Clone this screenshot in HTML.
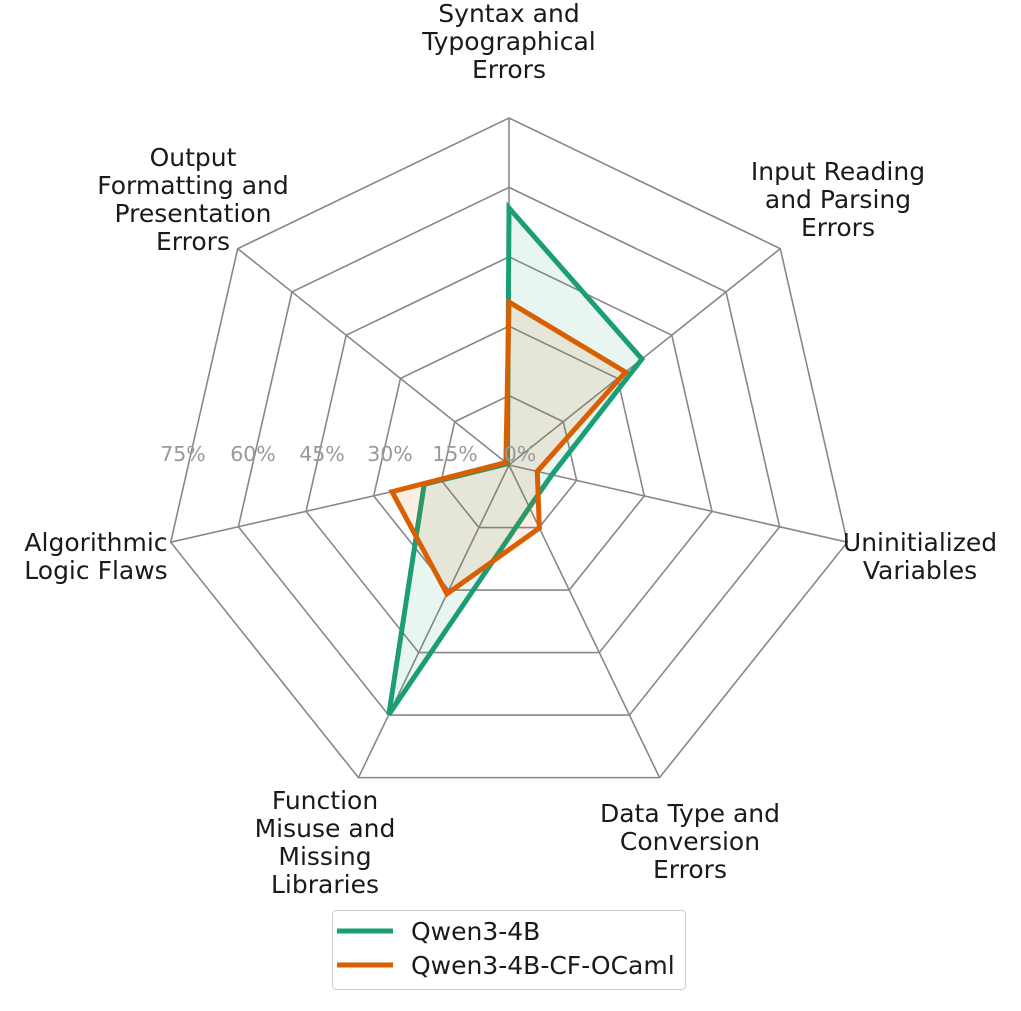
<!DOCTYPE html>
<html><head><meta charset="utf-8"><style>
html,body{margin:0;padding:0;background:#fff;}
svg text{font-family:"DejaVu Sans","Liberation Sans",sans-serif;}
</style></head><body>
<svg id="s" width="1021" height="1006" viewBox="0 0 1021 1006" xmlns="http://www.w3.org/2000/svg">
<g id="grid"></g>
<g id="data"></g>
<g font-size="20.5" fill="#999" text-anchor="middle">
<text x="520" y="461">0%</text>
<text x="455" y="461">15%</text>
<text x="390" y="461">30%</text>
<text x="322" y="461">45%</text>
<text x="253" y="461">60%</text>
<text x="183" y="461">75%</text>
</g>
<g font-size="25" fill="#1a1a1a" text-anchor="middle">
<text x="509" y="22">Syntax and</text>
<text x="509" y="50">Typographical</text>
<text x="509" y="78">Errors</text>
<text x="838" y="180">Input Reading</text>
<text x="838" y="208">and Parsing</text>
<text x="838" y="236">Errors</text>
<text x="920" y="551">Uninitialized</text>
<text x="920" y="579">Variables</text>
<text x="690" y="822">Data Type and</text>
<text x="690" y="850">Conversion</text>
<text x="690" y="878">Errors</text>
<text x="325" y="809">Function</text>
<text x="325" y="837">Misuse and</text>
<text x="325" y="865">Missing</text>
<text x="325" y="893">Libraries</text>
<text x="96" y="551">Algorithmic</text>
<text x="96" y="579">Logic Flaws</text>
<text x="193" y="166">Output</text>
<text x="193" y="194">Formatting and</text>
<text x="193" y="222">Presentation</text>
<text x="193" y="250">Errors</text>
</g>
<rect x="332.5" y="910.5" width="353" height="79" rx="4" fill="#fff" stroke="#ccc" stroke-width="1"/>
<line x1="337" y1="931" x2="393" y2="931" stroke="#1b9e77" stroke-width="5"/>
<line x1="337" y1="965" x2="393" y2="965" stroke="#d95f02" stroke-width="5"/>
<g font-size="25" fill="#1a1a1a">
<text x="411" y="940">Qwen3-4B</text>
<text x="411" y="974">Qwen3-4B-CF-OCaml</text>
</g>
</svg>
<script>
var cx=509,cy=465,R=347,N=7,ns="http://www.w3.org/2000/svg";
function pt(r,i){var a=i*2*Math.PI/N;return [cx+r*Math.sin(a),cy-r*Math.cos(a)];}
var g=document.getElementById('grid'),d=document.getElementById('data');
function el(p,t,at){var e=document.createElementNS(ns,t);for(var k in at)e.setAttribute(k,at[k]);p.appendChild(e);return e;}
for(var k=1;k<=5;k++){var r=R*k/5,ps=[];for(var i=0;i<N;i++)ps.push(pt(r,i).join(','));
el(g,'polygon',{points:ps.join(' '),fill:'none',stroke:'#888','stroke-width':1.6});}
for(var i=0;i<N;i++){var p=pt(R,i);el(g,'line',{x1:cx,y1:cy,x2:p[0],y2:p[1],stroke:'#888','stroke-width':1.6});}
var green=[257,170,44,47,277,87,2],orange=[163,149,29,70,143,120,4];
function poly(v,c){var ps=[];for(var i=0;i<N;i++)ps.push(pt(v[i],i).join(','));
el(d,'polygon',{points:ps.join(' '),fill:c,'fill-opacity':0.1,stroke:'none'});
el(d,'polygon',{points:ps.join(' '),fill:'none',stroke:c,'stroke-width':5,'stroke-linejoin':'miter'});}
poly(green,'#1b9e77');poly(orange,'#d95f02');
</script>
</body></html>
